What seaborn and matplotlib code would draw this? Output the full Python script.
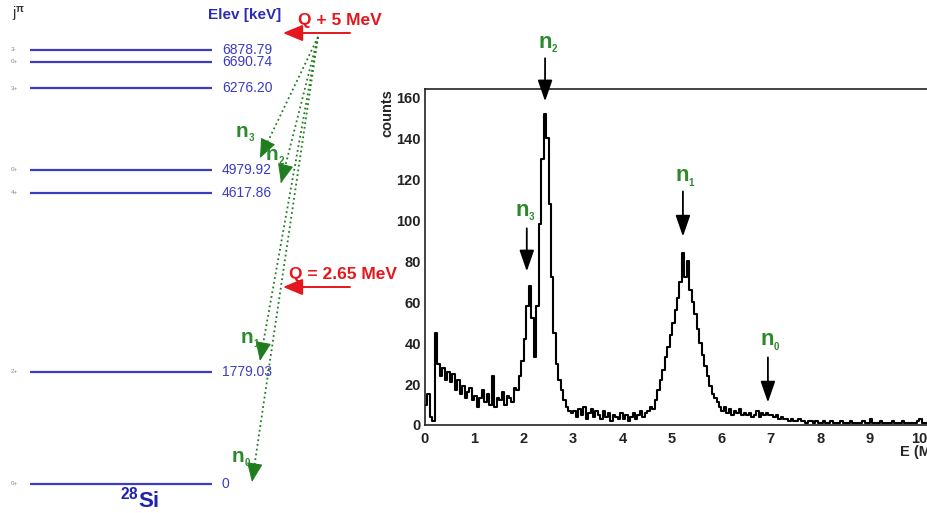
import numpy as np
import pandas as pd
import matplotlib.pyplot as plt
import seaborn as sns

# --- level scheme of 28Si (keV) ---
level_energy = [6878.79, 6690.74, 6276.20, 4979.92, 4617.86, 1779.03, 0.0]
level_spin = ["3-", "0+", "3+", "0+", "4+", "2+", "0+"]

# neutron groups in the scheme: arrow tip (keV) and label position
group_sub = ["3", "2", "1", "0"]
scheme_tip_x = [260, 281, 260, 252]
scheme_tip_e = [5167, 4771, 1950, 32]
scheme_lab_x = [242, 272, 247, 238]
scheme_lab_e = [5500, 5130, 2230, 350]
origin_x, origin_e = 318, 7085

# --- neutron spectrum, 0.05 MeV bins starting at 0 ---
bin_width = 0.05
counts = [
    10, 15, 4, 2, 45, 30, 24, 28, 22, 26,      # 0.0
    21, 25, 17, 22, 15, 19, 13, 16, 18, 12,    # 0.5
    14, 9, 13, 17, 11, 15, 10, 24, 9, 13,      # 1.0
    12, 16, 10, 14, 13, 11, 18, 17, 24, 31,    # 1.5
    42, 58, 68, 52, 33, 58, 98, 130, 152, 140, # 2.0
    108, 72, 45, 30, 22, 17, 12, 9, 7, 6,      # 2.5
    7, 4, 8, 5, 9, 3, 6, 8, 4, 7,              # 3.0
    5, 3, 7, 4, 6, 2, 5, 4, 3, 6,              # 3.5
    3, 5, 2, 4, 6, 3, 5, 7, 4, 6,              # 4.0
    7, 9, 8, 12, 17, 22, 27, 33, 38, 44,       # 4.5
    50, 56, 62, 70, 84, 72, 80, 66, 60, 54,    # 5.0
    47, 40, 34, 29, 24, 19, 15, 13, 11, 9,     # 5.5
    7, 9, 6, 8, 5, 7, 6, 8, 5, 6,              # 6.0
    5, 6, 4, 5, 7, 4, 6, 5, 6, 5,              # 6.5
    5, 4, 5, 3, 4, 3, 3, 2, 3, 2,              # 7.0
    2, 3, 2, 2, 1, 2, 2, 1, 2, 1,              # 7.5
    1, 2, 1, 1, 2, 1, 1, 1, 2, 1,              # 8.0
    1, 1, 2, 1, 1, 1, 1, 2, 1, 1,              # 8.5
    3, 1, 1, 1, 2, 1, 1, 1, 1, 2,              # 9.0
    1, 1, 1, 2, 1, 1, 1, 1, 1, 2,              # 9.5
    3, 1, 1, 1, 1,                             # 10.0
]

# peak markers in the spectrum
peak_e = [2.06, 2.43, 5.22, 6.94]
peak_top = [96, 179, 114, 33]
peak_tip = [75, 158, 92, 11]
peak_lab_e = [1.96, 2.43, 5.20, 6.92]
peak_lab_y = [102, 184, 119, 39]

BLUE = "#3b3bc4"
RED = "#e5161c"
GREEN = "#2c8a2c"
DGREEN = "#1f7d1f"
PX_PER_KEV = 0.0631  # vertical scale of the level scheme

sns.set_theme(style="white")
plt.rcParams["font.family"] = ["Liberation Sans", "DejaVu Sans"]
plt.rcParams["mathtext.fontset"] = "custom"
plt.rcParams["mathtext.rm"] = "Liberation Sans:bold"
plt.rcParams["mathtext.it"] = "Liberation Sans:bold"
plt.rcParams["mathtext.bf"] = "Liberation Sans:bold"

fig = plt.figure(figsize=(9.28, 5.13), dpi=100)


def n_label(ax, x, y, sub, size, sub_size):
    ax.text(x, y, "n", color=GREEN, fontsize=size, fontweight="bold",
            ha="center", va="baseline", clip_on=False)
    ax.annotate(sub, (x, y), xytext=(size * 0.31, -size * 0.2), textcoords="offset points",
                color=GREEN, fontsize=sub_size, fontweight="bold",
                ha="left", va="baseline", annotation_clip=False)


# ---------------- left: level scheme ----------------
axl = fig.add_axes([0, 0, 400 / 928, 1])
axl.set_xlim(0, 400)
axl.set_ylim(-460, 7671)
axl.axis("off")

axl.hlines(level_energy, 30, 212, color=BLUE, lw=1.6)
for e, s in zip(level_energy, level_spin):
    lab = "0" if e == 0 else f"{e:.2f}"
    axl.text(222, e, lab, color=BLUE, fontsize=10, va="center", ha="left")
    axl.text(11, e, s, color="#888888", fontsize=4.5, va="center", ha="left")

axl.text(12, 7440, r"j$^{\pi}$", color="#333333", fontsize=10.5, ha="left", va="center")
axl.text(245, 7433, "Elev [keV]", color="#2b2bb8", fontsize=11, fontweight="bold",
         ha="center", va="center")
axl.text(140, -250, r"$^{28}$Si", color="#2222b0", fontsize=16, fontweight="bold",
         ha="center", va="center")

# red Q arrows
red_arrow = dict(arrowstyle="-|>,head_length=1.2,head_width=0.5",
                 color=RED, lw=1.4, shrinkA=0, shrinkB=0, mutation_scale=10)
axl.text(340, 7354, "Q + 5 MeV", color=RED, fontsize=12.5, fontweight="bold",
         ha="center", va="center")
axl.annotate("", xy=(283, 7148), xytext=(350, 7148), arrowprops=red_arrow)
axl.text(343, 3313, "Q = 2.65 MeV", color=RED, fontsize=12.5, fontweight="bold",
         ha="center", va="center")
axl.annotate("", xy=(283, 3122), xytext=(350, 3122), arrowprops=red_arrow)

# green dotted transitions with solid heads
for tx, te, lx, le, sub in zip(scheme_tip_x, scheme_tip_e, scheme_lab_x, scheme_lab_e, group_sub):
    axl.plot([origin_x, tx], [origin_e, te], ls=":", color=DGREEN, lw=1.3)
    dx = origin_x - tx
    dy = (origin_e - te) * PX_PER_KEV
    norm = np.hypot(dx, dy)
    bx = tx + dx / norm * 16
    be = te + dy / norm * 16 / PX_PER_KEV
    axl.annotate("", xy=(tx, te), xytext=(bx, be),
                 arrowprops=dict(arrowstyle="-|>,head_length=1.2,head_width=0.5",
                                 color=DGREEN, lw=0.8, shrinkA=0, shrinkB=0,
                                 mutation_scale=10))
    n_label(axl, lx, le, sub, 15, 7)

# ---------------- right: neutron spectrum ----------------
df = pd.DataFrame({"E": np.arange(len(counts)) * bin_width + bin_width / 2,
                   "counts": counts})

axr = fig.add_axes([425 / 928, 88 / 513, 503 / 928, 336 / 513])
sns.histplot(data=df, x="E", weights="counts", binwidth=bin_width,
             binrange=(0, len(counts) * bin_width), element="step", fill=False,
             color="black", lw=1.5, ax=axr)
axr.set_xlim(0, 10.18)
axr.set_ylim(0, 164)
axr.set_xlabel("")
axr.set_ylabel("")
axr.spines["right"].set_visible(False)
for sp in ["left", "bottom", "top"]:
    axr.spines[sp].set_color("#222222")
    axr.spines[sp].set_linewidth(1.2)

axr.set_xticks(range(0, 11))
axr.set_xticks(np.arange(0, 10.2, 0.2), minor=True)
axr.set_yticks(range(0, 161, 20))
axr.set_yticks(range(0, 165, 5), minor=True)
axr.tick_params(axis="both", which="both", direction="in", colors="#222222")
axr.tick_params(axis="y", which="major", length=10, width=1, pad=3, labelsize=10.5)
axr.tick_params(axis="y", which="minor", length=5, width=1)
axr.tick_params(axis="x", which="major", length=5, width=1, pad=5, labelsize=10.5)
axr.tick_params(axis="x", which="minor", length=3, width=1)
axr.tick_params(top=False, right=False, which="both")
for lab in axr.get_xticklabels() + axr.get_yticklabels():
    lab.set_fontweight("bold")

axr.text(-0.0755, 1.0, "counts", transform=axr.transAxes, rotation=90, fontsize=10.5,
         fontweight="bold", ha="center", va="top")
axr.text(0.944, -0.08, "E (MeV)", transform=axr.transAxes, fontsize=10.5,
         fontweight="bold", ha="left", va="center")

for x, top, tip, lx, ly, sub in zip(peak_e, peak_top, peak_tip, peak_lab_e, peak_lab_y, group_sub):
    axr.annotate("", xy=(x, tip), xytext=(x, top), annotation_clip=False,
                 arrowprops=dict(arrowstyle="-|>,head_length=1.3,head_width=0.45",
                                 color="black", lw=1.3, shrinkA=0, shrinkB=0,
                                 mutation_scale=10))
    n_label(axr, lx, ly, sub, 16, 7)

fig.savefig("out.png", dpi=100)
